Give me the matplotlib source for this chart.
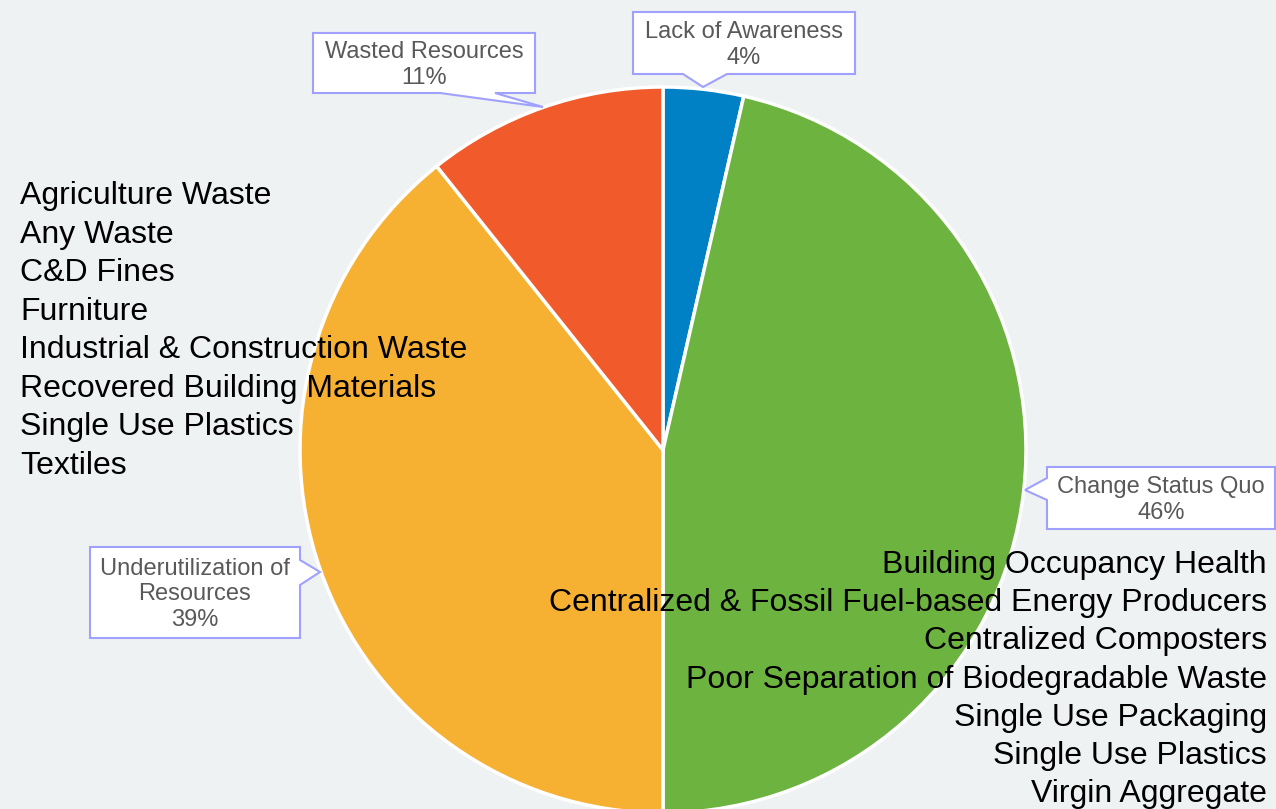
import matplotlib
matplotlib.use("Agg")
from matplotlib import pyplot as plt
from matplotlib.patches import Polygon

plt.rcParams['font.family'] = ['Liberation Sans', 'DejaVu Sans']

W, H = 1276, 809

categories = ["Lack of Awareness", "Change Status Quo",
              "Underutilization of\nResources", "Wasted Resources"]
counts = [1, 13, 11, 3]
colors = ["#0081C6", "#6DB33F", "#F7B132", "#F15A2B"]

left_items = ["Agriculture Waste", "Any Waste", "C&D Fines", "Furniture",
              "Industrial & Construction Waste", "Recovered Building Materials",
              "Single Use Plastics", "Textiles"]
right_items = ["Building Occupancy Health",
               "Centralized & Fossil Fuel-based Energy Producers",
               "Centralized Composters",
               "Poor Separation of Biodegradable Waste",
               "Single Use Packaging", "Single Use Plastics", "Virgin Aggregate"]

BG = "#EEF2F3"
EDGE = "#A0A0FF"


def Y(py):
    return H - py


def callout(ax, box, ptr, side, text):
    # box = (x0, y0, x1, y1) in pixel coords (y down), ptr = (b0, b1, tipx, tipy)
    x0, y0, x1, y1 = box
    b0, b1, tx, ty = ptr
    if side == "bottom":
        pts = [(x0, y0), (x1, y0), (x1, y1), (b1, y1), (tx, ty), (b0, y1), (x0, y1)]
    elif side == "left":
        pts = [(x0, y0), (x1, y0), (x1, y1), (x0, y1), (x0, b1), (tx, ty), (x0, b0)]
    else:  # right
        pts = [(x0, y0), (x1, y0), (x1, b0), (tx, ty), (x1, b1), (x1, y1), (x0, y1)]
    poly = Polygon([(x, Y(y)) for x, y in pts], closed=True, facecolor="white",
                   edgecolor=EDGE, linewidth=1.5, zorder=5)
    ax.add_patch(poly)
    ax.text((x0 + x1) / 2, Y((y0 + y1) / 2 + 2), text, ha="center", va="center",
            fontsize=17, color="#595959", linespacing=1.2, zorder=6)


def main():
    fig = plt.figure(figsize=(W / 100, H / 100), dpi=100)
    fig.patch.set_facecolor(BG)
    ax = fig.add_axes([0, 0, 1, 1])
    ax.set_facecolor(BG)

    ax.pie(counts, colors=colors, startangle=90, counterclock=False,
           center=(663, Y(450)), radius=363, frame=True,
           wedgeprops=dict(edgecolor="white", linewidth=2.5))
    ax.set_xlim(0, W)
    ax.set_ylim(0, H)
    ax.set_aspect("auto")
    ax.axis("off")

    total = sum(counts)
    pct = ["%d%%" % round(100 * c / total) for c in counts]

    callout(ax, (633, 12, 855, 74), (683, 727, 703, 87), "bottom",
            categories[0] + "\n" + pct[0])
    callout(ax, (1047, 467, 1275, 529), (478, 500, 1025, 490), "left",
            categories[1] + "\n" + pct[1])
    callout(ax, (90, 547, 300, 638), (560, 585, 320, 572), "right",
            categories[2] + "\n" + pct[2])
    callout(ax, (313, 33, 535, 93), (440, 495, 543, 107), "bottom",
            categories[3] + "\n" + pct[3])

    for i, t in enumerate(left_items):
        ax.text(20, Y(196 + i * 38.5), t, ha="left", va="center",
                fontsize=23, color="black", zorder=7)
    for i, t in enumerate(right_items):
        ax.text(1267, Y(565 + i * 38.2), t, ha="right", va="center",
                fontsize=23, color="black", zorder=7)

    fig.savefig("out.png", dpi=100, facecolor=BG)


if __name__ == '__main__':
    main()
